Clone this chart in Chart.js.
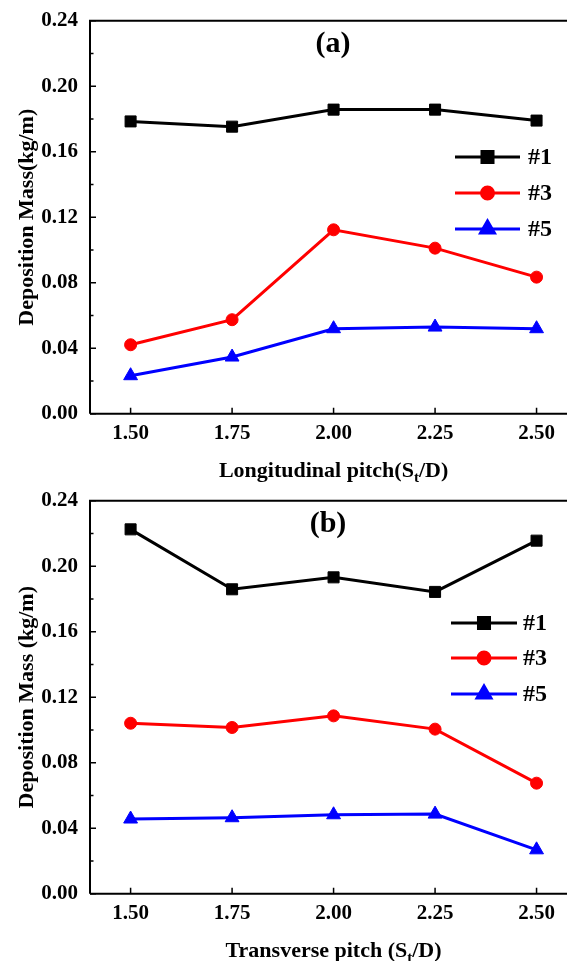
<!DOCTYPE html>
<html>
<head>
<meta charset="utf-8">
<script src="https://cdn.jsdelivr.net/npm/chart.js@4.4.1/dist/chart.umd.min.js"></script>
<style>
  html, body { margin: 0; padding: 0; background: #fff; overflow: hidden; }
  #page { position: relative; width: 567px; height: 961px; overflow: hidden; background: #fff; }
  canvas { position: absolute; left: 0; }
  #graph-a { top: 0; }
  #graph-b { top: 480px; }
</style>
</head>
<body>
<div id="page">
  <canvas id="graph-a" width="567" height="500"></canvas>
  <canvas id="graph-b" width="567" height="481"></canvas>
</div>
<script>
const PITCHES = [1.5, 1.75, 2.0, 2.25, 2.5];
const Y_TICKS = [0, 0.04, 0.08, 0.12, 0.16, 0.2, 0.24];
const SERIES_NAMES = ['#1', '#3', '#5'];

// (a) longitudinal pitch
const LONGI_1 = [0.1785, 0.1753, 0.1857, 0.1857, 0.1790];
const LONGI_3 = [0.0421, 0.0574, 0.1123, 0.1011, 0.0834];
const LONGI_5 = [0.0232, 0.0346, 0.0519, 0.0529, 0.0519];

// (b) transverse pitch
const TRANS_1 = [0.2225, 0.1859, 0.1932, 0.1843, 0.2156];
const TRANS_3 = [0.1041, 0.1015, 0.1086, 0.1005, 0.0675];
const TRANS_5 = [0.0456, 0.0464, 0.0482, 0.0486, 0.0268];

const FONT = '"Liberation Serif", "Times New Roman", serif';

const STYLES = [
  { color: '#000000', pointStyle: 'rect', pointRadius: 7.8 },
  { color: '#ff0000', pointStyle: 'circle', pointRadius: 6 },
  { color: '#0000ff', pointStyle: 'triangle', pointRadius: 8 },
];

const frame = {
  id: 'frame',
  afterDraw(chart, args, opts) {
    const { ctx, chartArea: { left, top, right, bottom }, scales: { x, y } } = chart;
    ctx.save();
    ctx.strokeStyle = '#000';
    ctx.lineWidth = 2;
    ctx.beginPath();
    ctx.moveTo(left, bottom);
    ctx.lineTo(left, top);
    ctx.lineTo(right, top);
    ctx.moveTo(left, bottom);
    ctx.lineTo(right, bottom);
    ctx.stroke();

    // inward ticks
    ctx.lineWidth = 1.5;
    ctx.beginPath();
    Y_TICKS.forEach((v, i) => {
      const py = y.getPixelForValue(v);
      ctx.moveTo(left, py);
      ctx.lineTo(left + 6, py);
      if (i < Y_TICKS.length - 1) {
        const pm = y.getPixelForValue((v + Y_TICKS[i + 1]) / 2);
        ctx.moveTo(left, pm);
        ctx.lineTo(left + 3.5, pm);
      }
    });
    PITCHES.forEach((v) => {
      const px = x.getPixelForValue(v);
      ctx.moveTo(px, bottom);
      ctx.lineTo(px, bottom - 6);
    });
    ctx.stroke();

    // panel label
    ctx.fillStyle = '#000';
    ctx.textAlign = 'center';
    ctx.textBaseline = 'middle';
    ctx.font = `bold 30px ${FONT}`;
    ctx.fillText(opts.panel, opts.panelX, opts.panelY);

    // x title with subscript, centred on the middle pitch
    const [before, sub, after] = opts.xTitle;
    const big = `bold 22px ${FONT}`;
    const small = `bold 15px ${FONT}`;
    ctx.textAlign = 'left';
    ctx.textBaseline = 'alphabetic';
    ctx.font = big;
    const w1 = ctx.measureText(before).width;
    const w3 = ctx.measureText(after).width;
    ctx.font = small;
    const w2 = ctx.measureText(sub).width;
    let tx = x.getPixelForValue(2.0) - (w1 + w2 + w3) / 2;
    const ty = bottom + 63.5;
    ctx.font = big;
    ctx.fillText(before, tx, ty);
    tx += w1;
    ctx.font = small;
    ctx.fillText(sub, tx, ty + 5);
    tx += w2;
    ctx.font = big;
    ctx.fillText(after, tx, ty);

    // legend
    const lg = opts.legend;
    chart.data.datasets.forEach((ds, i) => {
      const ly = lg.ys[i];
      ctx.strokeStyle = ds.borderColor;
      ctx.lineWidth = 3;
      ctx.beginPath();
      ctx.moveTo(lg.x1, ly);
      ctx.lineTo(lg.x2, ly);
      ctx.stroke();
      ctx.fillStyle = ds.backgroundColor;
      Chart.helpers.drawPoint(ctx, {
        pointStyle: ds.pointStyle,
        radius: ds.pointRadius,
        rotation: 0,
        borderWidth: 1,
      }, (lg.x1 + lg.x2) / 2, ly);
      ctx.fillStyle = '#000';
      ctx.font = `bold 24px ${FONT}`;
      ctx.textBaseline = 'middle';
      ctx.fillText(ds.label, lg.textX, ly + 1);
    });
    ctx.restore();
  },
};

const noPadding = (scale) => {
  scale.paddingTop = 0;
  scale.paddingBottom = 0;
  scale.paddingLeft = 0;
  scale.paddingRight = 0;
};

const buildDatasets = (series) => series.map((values, i) => ({
  label: SERIES_NAMES[i],
  data: values.map((v, j) => ({ x: PITCHES[j], y: v })),
  borderColor: STYLES[i].color,
  backgroundColor: STYLES[i].color,
  pointBackgroundColor: STYLES[i].color,
  pointBorderColor: STYLES[i].color,
  pointStyle: STYLES[i].pointStyle,
  pointRadius: STYLES[i].pointRadius,
  pointBorderWidth: 1,
  borderWidth: 3,
  tension: 0,
}));

const drawPanel = (canvas, { series, yTitle, xTitle, panel, panelX, legend }) => {
  const xHeight = canvas.height - 413.7;
  /* eslint-disable no-new */
  new Chart(canvas, {
    type: 'line',
    plugins: [frame],
    data: { datasets: buildDatasets(series) },
    options: {
      responsive: false,
      animation: false,
      devicePixelRatio: 1,
      layout: { autoPadding: false, padding: { top: 20.7, right: 0, left: 0, bottom: 0 } },
      plugins: {
        legend: { display: false },
        tooltip: { enabled: false },
        frame: { panel, panelX, panelY: 44, xTitle, legend },
      },
      scales: {
        x: {
          type: 'linear',
          min: 1.4,
          max: 2.575,
          grid: { display: false, drawTicks: false },
          border: { display: false },
          afterBuildTicks: (scale) => { scale.ticks = PITCHES.map((v) => ({ value: v })); },
          afterFit: (scale) => { scale.height = xHeight; noPadding(scale); },
          ticks: {
            padding: 7,
            color: '#000',
            font: { family: FONT, size: 21, weight: 'bold' },
            callback: (v) => v.toFixed(2),
          },
        },
        y: {
          min: 0,
          max: 0.24,
          grid: { display: false, drawTicks: false },
          border: { display: false },
          afterBuildTicks: (scale) => { scale.ticks = Y_TICKS.map((v) => ({ value: v })); },
          afterFit: (scale) => { scale.width = 90; noPadding(scale); },
          ticks: {
            padding: 12,
            color: '#000',
            font: { family: FONT, size: 21, weight: 'bold' },
            callback: (v) => v.toFixed(2),
          },
          title: {
            display: true,
            text: yTitle,
            color: '#000',
            padding: { top: 14, bottom: 0 },
            font: { family: FONT, size: 22, weight: 'bold' },
          },
        },
      },
    },
  });
  /* eslint-enable no-new */
};

drawPanel(document.getElementById('graph-a'), {
  series: [LONGI_1, LONGI_3, LONGI_5],
  yTitle: 'Deposition Mass(kg/m)',
  xTitle: ['Longitudinal pitch(S', 't', '/D)'],
  panel: '(a)',
  panelX: 333,
  legend: { x1: 455, x2: 520, textX: 528, ys: [157, 193, 229] },
});

drawPanel(document.getElementById('graph-b'), {
  series: [TRANS_1, TRANS_3, TRANS_5],
  yTitle: 'Deposition Mass (kg/m)',
  xTitle: ['Transverse pitch (S', 't', '/D)'],
  panel: '(b)',
  panelX: 328,
  legend: { x1: 451, x2: 517, textX: 523, ys: [143, 178, 214] },
});
</script>
</body>
</html>
